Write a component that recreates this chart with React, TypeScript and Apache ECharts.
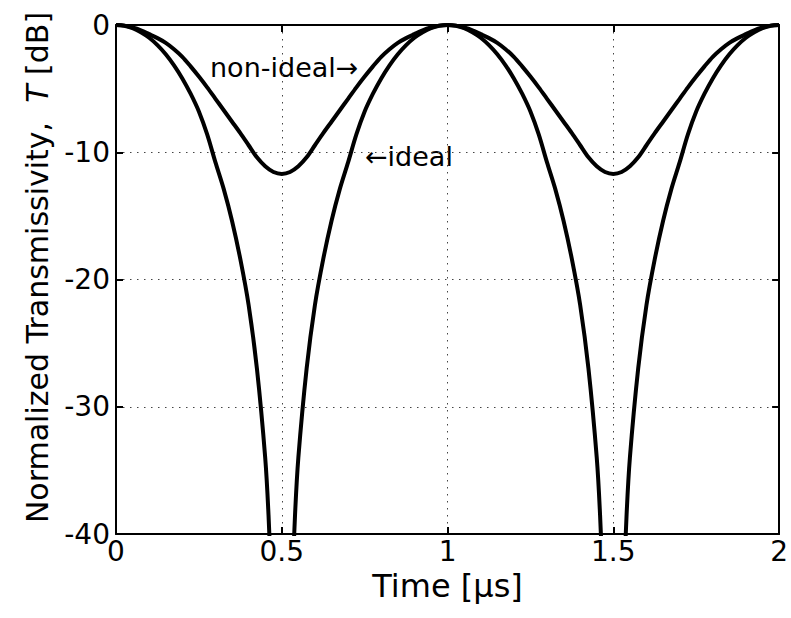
import React, { useEffect, useRef } from "react";
import * as echarts from "echarts";

// Time axis (microseconds) and tick values
const xTickValues = [0, 0.5, 1, 1.5, 2];
const yTickValues = [-40, -30, -20, -10, 0];

// "ideal" curve: time points and transmissivity in dB (null = gap at the notch)
const idealTime = [
  0, 0.025, 0.05, 0.075, 0.1, 0.125, 0.15, 0.175, 0.2, 0.225, 0.25, 0.275, 0.3, 0.325, 0.35, 0.375, 0.4, 0.425, 0.45, 0.46, 0.475,
  0.5,
  0.525, 0.54, 0.55, 0.575, 0.6, 0.625, 0.65, 0.675, 0.7, 0.725, 0.75, 0.775, 0.8, 0.825, 0.85, 0.875, 0.9, 0.925, 0.95, 0.975,
  1, 1.025, 1.05, 1.075, 1.1, 1.125, 1.15, 1.175, 1.2, 1.225, 1.25, 1.275, 1.3, 1.325, 1.35, 1.375, 1.4, 1.425, 1.45, 1.46, 1.475,
  1.5,
  1.525, 1.54, 1.55, 1.575, 1.6, 1.625, 1.65, 1.675, 1.7, 1.725, 1.75, 1.775, 1.8, 1.825, 1.85, 1.875, 1.9, 1.925, 1.95, 1.975, 2,
];
const idealValue = [
  0, -0.06, -0.25, -0.57, -1.0, -1.58, -2.3, -3.17, -4.2, -5.4, -6.8, -8.6, -10.8, -12.9, -15.4, -18.4, -22.0, -27.0, -34.0, -38.5, -48,
  null,
  -48, -38.5, -34.0, -27.0, -22.0, -18.4, -15.4, -12.9, -10.8, -8.6, -6.8, -5.4, -4.2, -3.17, -2.3, -1.58, -1.0, -0.57, -0.25, -0.06,
  0, -0.06, -0.25, -0.57, -1.0, -1.58, -2.3, -3.17, -4.2, -5.4, -6.8, -8.6, -10.8, -12.9, -15.4, -18.4, -22.0, -27.0, -34.0, -38.5, -48,
  null,
  -48, -38.5, -34.0, -27.0, -22.0, -18.4, -15.4, -12.9, -10.8, -8.6, -6.8, -5.4, -4.2, -3.17, -2.3, -1.58, -1.0, -0.57, -0.25, -0.06, 0,
];

// "non-ideal" curve
const nonIdealTime = [
  0, 0.025, 0.05, 0.075, 0.1, 0.125, 0.15, 0.175, 0.2, 0.225, 0.25, 0.275, 0.3, 0.325, 0.35, 0.375, 0.4, 0.425, 0.45, 0.475,
  0.5, 0.525, 0.55, 0.575, 0.6, 0.625, 0.65, 0.675, 0.7, 0.725, 0.75, 0.775, 0.8, 0.825, 0.85, 0.875, 0.9, 0.925, 0.95, 0.975,
  1, 1.025, 1.05, 1.075, 1.1, 1.125, 1.15, 1.175, 1.2, 1.225, 1.25, 1.275, 1.3, 1.325, 1.35, 1.375, 1.4, 1.425, 1.45, 1.475,
  1.5, 1.525, 1.55, 1.575, 1.6, 1.625, 1.65, 1.675, 1.7, 1.725, 1.75, 1.775, 1.8, 1.825, 1.85, 1.875, 1.9, 1.925, 1.95, 1.975, 2,
];
const nonIdealValue = [
  0, -0.05, -0.2, -0.42, -0.72, -1.03, -1.4, -1.9, -2.5, -3.25, -4.05, -4.9, -5.8, -6.7, -7.6, -8.5, -9.45, -10.4, -11.1, -11.55,
  -11.7, -11.55, -11.1, -10.4, -9.45, -8.5, -7.6, -6.7, -5.8, -4.9, -4.05, -3.25, -2.5, -1.9, -1.4, -1.03, -0.72, -0.42, -0.2, -0.05,
  0, -0.05, -0.2, -0.42, -0.72, -1.03, -1.4, -1.9, -2.5, -3.25, -4.05, -4.9, -5.8, -6.7, -7.6, -8.5, -9.45, -10.4, -11.1, -11.55,
  -11.7, -11.55, -11.1, -10.4, -9.45, -8.5, -7.6, -6.7, -5.8, -4.9, -4.05, -3.25, -2.5, -1.9, -1.4, -1.03, -0.72, -0.42, -0.2, -0.05, 0,
];

const xAxisTitle = "Time [μs]";
const yAxisTitle = "Normalized Transmissivity,  {i|T} [dB]";
const nonIdealLabel = "non-ideal→";
const idealLabel = "←ideal";

const FONT = '"DejaVu Sans", "Liberation Sans", Arial, sans-serif';

export default function App() {
  const ref = useRef<HTMLDivElement>(null);

  useEffect(() => {
    if (!ref.current) return;
    const chart = echarts.init(ref.current, undefined, { renderer: "svg" });
    const gridLine = { show: true, lineStyle: { color: "#444", width: 1, type: [1.5, 5.5] as any } };
    const axisLine = { show: true, onZero: false, lineStyle: { color: "#000", width: 2 } };
    const tick = { show: true, inside: true, length: 7, lineStyle: { color: "#000", width: 2 } };
    const xMin = xTickValues[0];
    const xMax = xTickValues[xTickValues.length - 1];
    const yMin = yTickValues[0];
    const yMax = yTickValues[yTickValues.length - 1];
    const xInt = xTickValues[1] - xTickValues[0];
    const yInt = yTickValues[1] - yTickValues[0];

    chart.setOption({
      animation: false,
      backgroundColor: "#fff",
      grid: { left: 116, right: 10, top: 25, bottom: 84, containLabel: false },
      xAxis: [
        {
          type: "value",
          min: xMin,
          max: xMax,
          interval: xInt,
          position: "bottom",
          axisLine,
          axisTick: tick,
          splitLine: gridLine,
          axisLabel: { color: "#000", fontSize: 28, fontFamily: FONT, margin: 3 },
          name: xAxisTitle,
          nameLocation: "middle",
          nameGap: 36,
          nameTextStyle: { color: "#000", fontSize: 32, fontFamily: FONT },
        },
        {
          type: "value",
          min: xMin,
          max: xMax,
          interval: xInt,
          position: "top",
          axisLine,
          axisTick: tick,
          splitLine: { show: false },
          axisLabel: { show: false },
        },
      ],
      yAxis: [
        {
          type: "value",
          min: yMin,
          max: yMax,
          interval: yInt,
          position: "left",
          axisLine,
          axisTick: tick,
          splitLine: gridLine,
          axisLabel: { color: "#000", fontSize: 28, fontFamily: FONT, margin: 6 },
          name: yAxisTitle,
          nameLocation: "middle",
          nameRotate: 90,
          nameGap: 64,
          nameTextStyle: {
            color: "#000",
            fontSize: 30,
            fontFamily: FONT,
            padding: [0, 0, 0, 24],
            rich: { i: { fontStyle: "italic", fontSize: 30, fontFamily: FONT, color: "#000" } },
          },
        },
        {
          type: "value",
          min: yMin,
          max: yMax,
          interval: yInt,
          position: "right",
          axisLine,
          axisTick: tick,
          splitLine: { show: false },
          axisLabel: { show: false },
        },
      ],
      series: [
        {
          name: "ideal",
          type: "line",
          xAxisIndex: 0,
          yAxisIndex: 0,
          data: idealTime.map((t, i) => [t, idealValue[i]]),
          showSymbol: false,
          connectNulls: false,
          smooth: 0.3,
          clip: true,
          lineStyle: { color: "#000", width: 4 },
          itemStyle: { color: "#000" },
        },
        {
          name: "non-ideal",
          type: "line",
          xAxisIndex: 0,
          yAxisIndex: 0,
          data: nonIdealTime.map((t, i) => [t, nonIdealValue[i]]),
          showSymbol: false,
          smooth: 0.3,
          clip: true,
          lineStyle: { color: "#000", width: 4 },
          itemStyle: { color: "#000" },
        },
      ],
      graphic: [
        {
          type: "text",
          x: 210,
          y: 67,
          style: { text: nonIdealLabel, fontSize: 27, fontFamily: FONT, fill: "#000", verticalAlign: "middle" },
        },
        {
          type: "text",
          x: 365,
          y: 156,
          style: { text: idealLabel, fontSize: 27, fontFamily: FONT, fill: "#000", verticalAlign: "middle" },
        },
      ],
    });
    return () => chart.dispose();
  }, []);

  return (
    <div
      ref={ref}
      style={{ position: "fixed", left: 0, top: 0, width: 791, height: 618, background: "#fff" }}
    />
  );
}
